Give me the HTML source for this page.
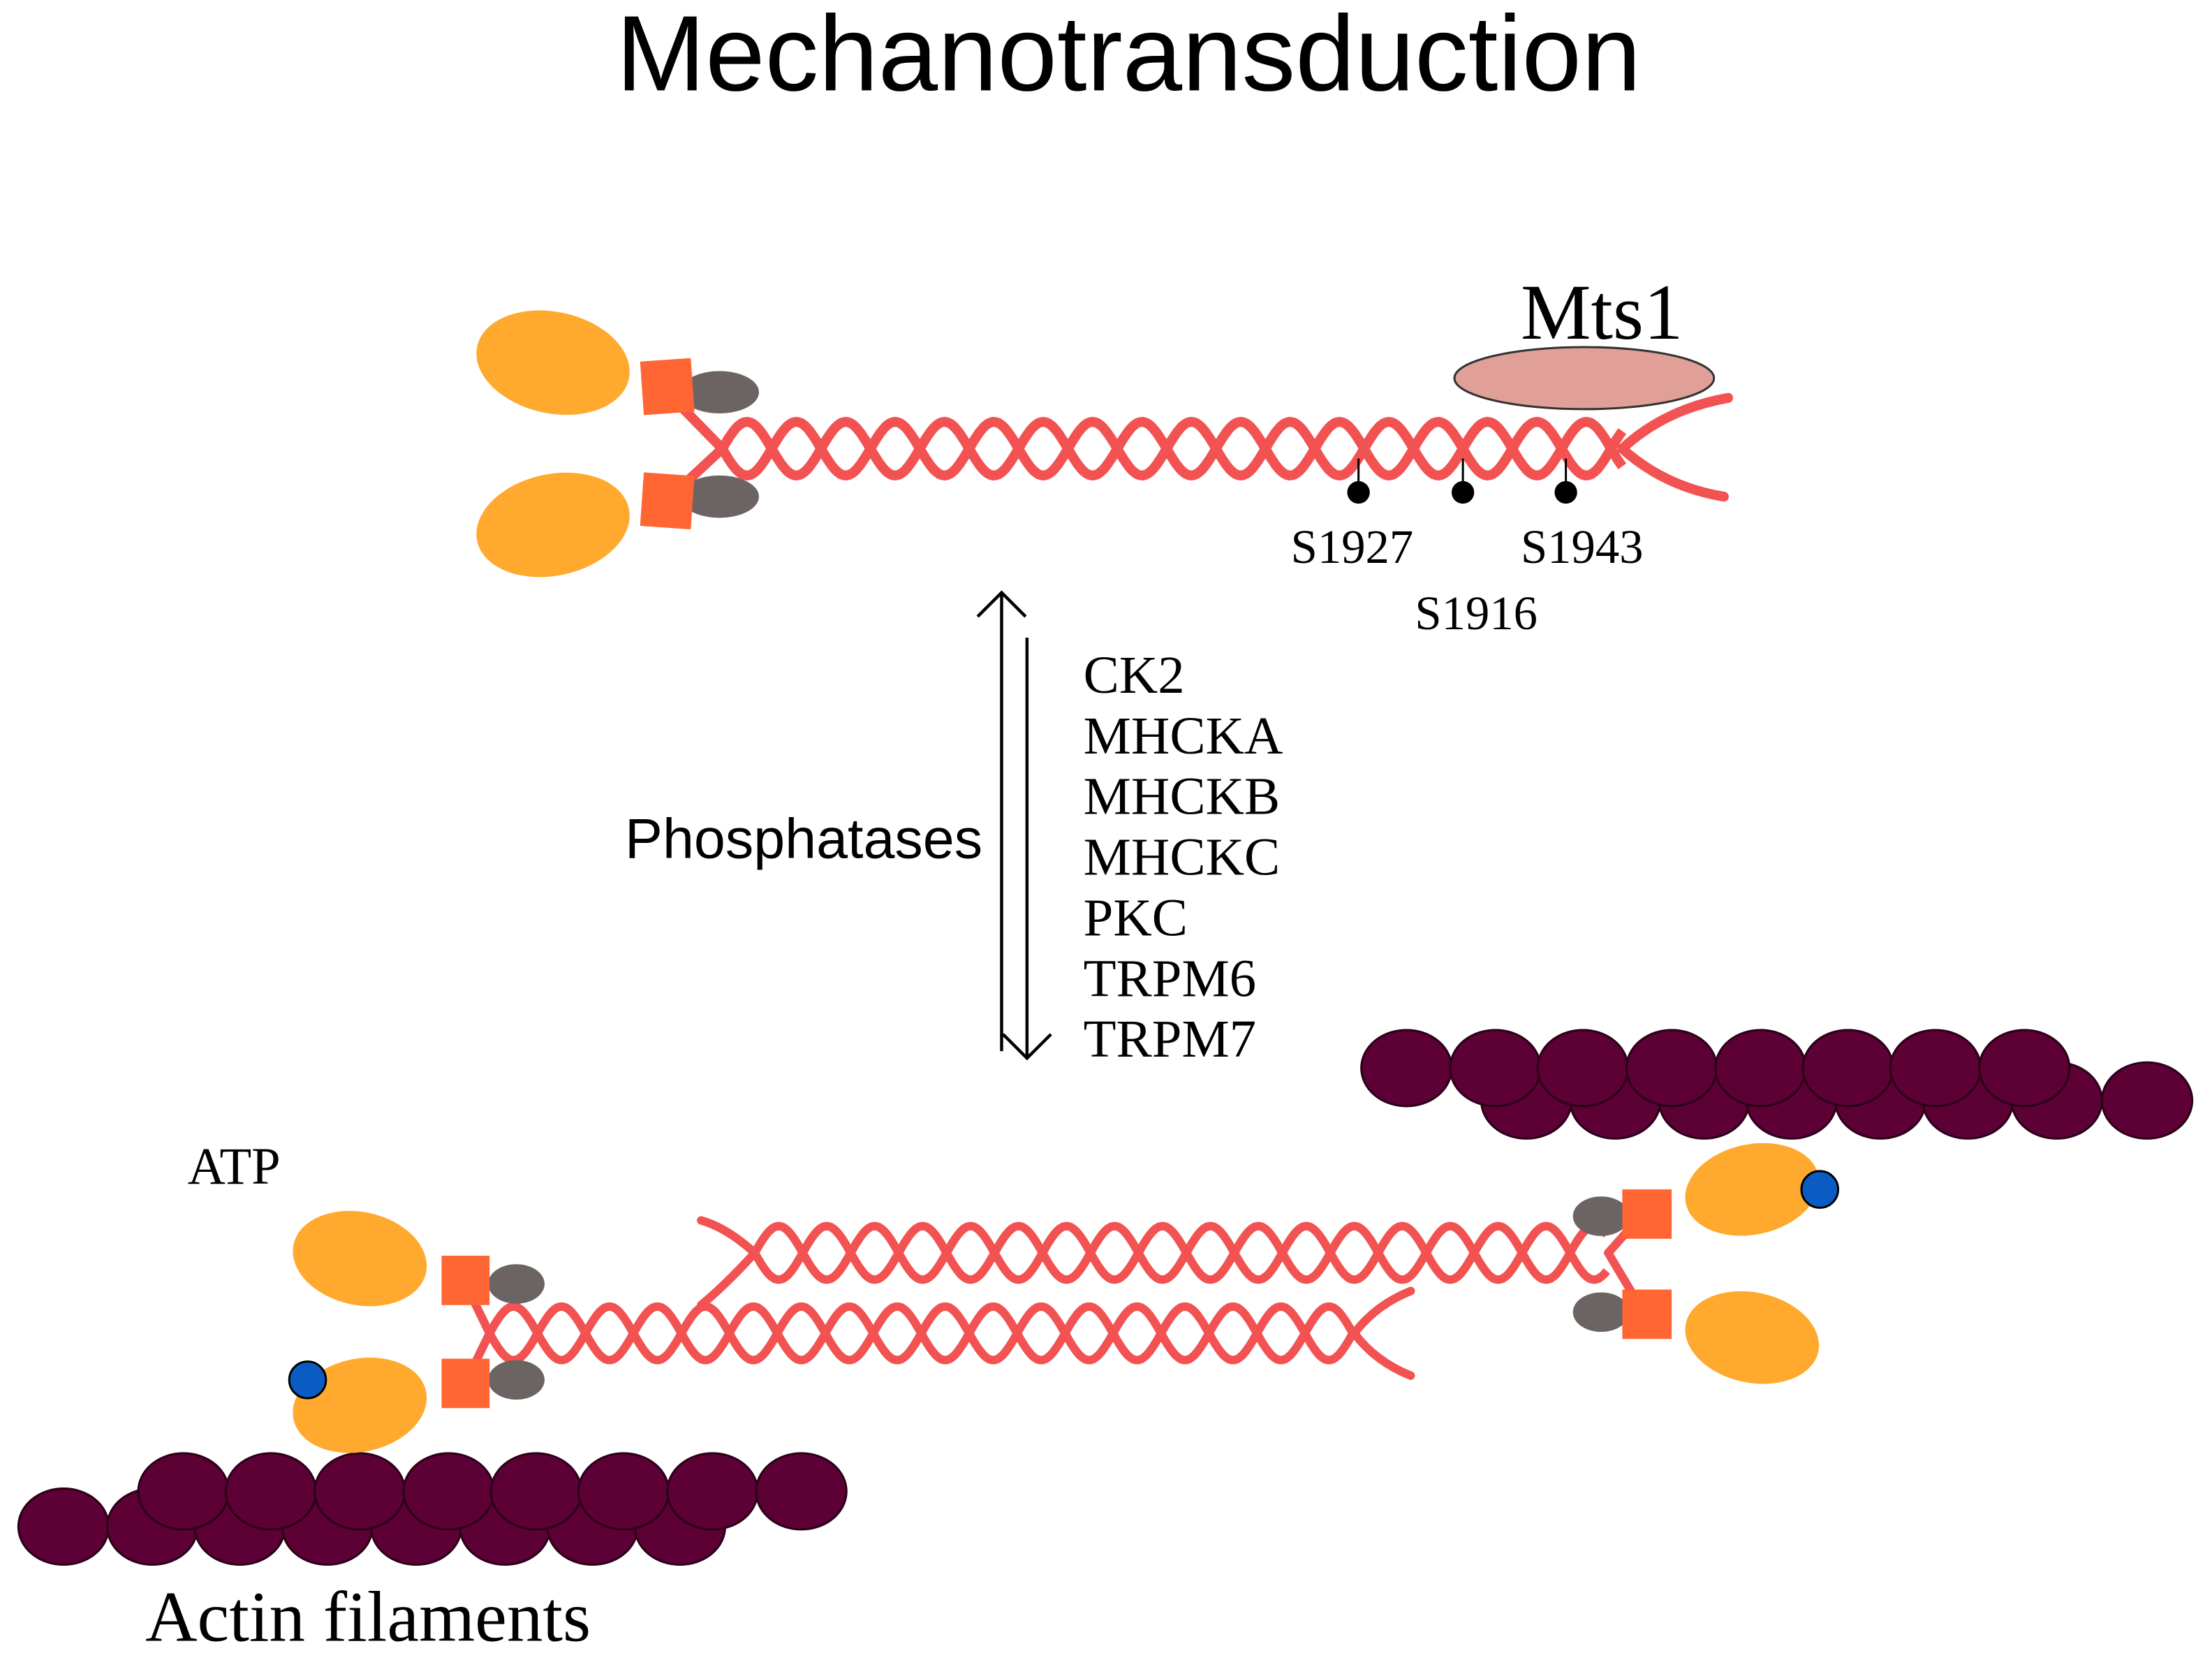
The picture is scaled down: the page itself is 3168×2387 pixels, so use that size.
<!DOCTYPE html>
<html><head><meta charset="utf-8"><style>
html,body{margin:0;padding:0;background:#fff;width:3168px;height:2387px;overflow:hidden}
svg{display:block}
.serif{font-family:"Liberation Serif",serif}
.sans{font-family:"Liberation Sans",sans-serif}
</style></head><body>
<svg id="s" width="3168" height="2387" viewBox="0 0 1568 1181.5" xmlns="http://www.w3.org/2000/svg">
<text x="800" y="64" text-anchor="middle" class="sans" font-size="76">Mechanotransduction</text>
<g id="actinTR"></g>
<g id="actinBL"></g>
<!-- top myosin heads -->
<g stroke="#f25252" stroke-width="7" fill="none" stroke-linecap="round">
<path d="M512 318 L470 275"/><path d="M512 318 L470 357"/>
<path d="M1150 318 Q1180 290 1225 282"/><path d="M1150 318 Q1180 345 1222 352"/>
</g>
<ellipse cx="392" cy="257" rx="55" ry="36" fill="#ffaa2e" transform="rotate(12 392 257)"/>
<ellipse cx="392" cy="372" rx="55" ry="36" fill="#ffaa2e" transform="rotate(-12 392 372)"/>
<ellipse cx="510" cy="278" rx="28" ry="15" fill="#6b6462"/>
<ellipse cx="510" cy="352" rx="28" ry="15" fill="#6b6462"/>
<rect x="455" y="255" width="36" height="38" fill="#ff6633" transform="rotate(-4 473 274)"/>
<rect x="455" y="336" width="36" height="38" fill="#ff6633" transform="rotate(4 473 355)"/>
<path id="h1" fill="none" stroke="#f25252" stroke-width="7"/>
<ellipse cx="1123" cy="268" rx="92" ry="22" fill="#e0a098" stroke="#333" stroke-width="1.5"/>
<text x="1078" y="240" class="serif" font-size="56">Mts1</text>
<g stroke="#000" stroke-width="1.5"><line x1="963" y1="325" x2="963" y2="348"/><line x1="1037" y1="325" x2="1037" y2="348"/><line x1="1110" y1="325" x2="1110" y2="348"/></g>
<circle cx="963" cy="349" r="8"/><circle cx="1037" cy="349" r="8"/><circle cx="1110" cy="349" r="8"/>
<g class="serif" font-size="34"><text x="915" y="399">S1927</text><text x="1078" y="399">S1943</text><text x="1003" y="446">S1916</text></g>
<!-- arrows -->
<g stroke="#000" stroke-width="2.2" fill="none">
<line x1="710" y1="420" x2="710" y2="745"/><path d="M693 437 L710 420 L727 437"/>
<line x1="728" y1="452" x2="728" y2="750"/><path d="M711 733 L728 750 L745 733"/>
</g>
<text x="443" y="608" class="sans" font-size="40">Phosphatases</text>
<g class="serif" font-size="38">
<text x="768" y="491">CK2</text><text x="768" y="534">MHCKA</text><text x="768" y="577">MHCKB</text><text x="768" y="620">MHCKC</text><text x="768" y="663">PKC</text><text x="768" y="706">TRPM6</text><text x="768" y="749">TRPM7</text>
</g>
<!-- bottom myosins -->
<g stroke="#f25252" stroke-width="6" fill="none" stroke-linecap="round">
<path d="M347 945 L330 910"/><path d="M347 945 L330 980"/>
<path d="M960 945 Q975 925 1000 915"/><path d="M960 945 Q975 965 1000 975"/>
<path d="M535 888 Q515 870 497 865"/><path d="M535 888 Q515 910 497 925"/>
<path d="M1140 888 L1165 860"/><path d="M1140 888 L1165 930"/>
</g>
<path id="h2" fill="none" stroke="#f25252" stroke-width="6"/>
<path id="h3" fill="none" stroke="#f25252" stroke-width="6"/>
<ellipse cx="255" cy="892" rx="48" ry="33" fill="#ffaa2e" transform="rotate(12 255 892)"/>
<ellipse cx="255" cy="996" rx="48" ry="33" fill="#ffaa2e" transform="rotate(-12 255 996)"/>
<ellipse cx="366" cy="910" rx="20" ry="14" fill="#6b6462"/>
<ellipse cx="366" cy="978" rx="20" ry="14" fill="#6b6462"/>
<rect x="313" y="890" width="34" height="35" fill="#ff6633"/>
<rect x="313" y="963" width="34" height="35" fill="#ff6633"/>
<circle cx="218" cy="978" r="13" fill="#0a5cc2" stroke="#000" stroke-width="1.5"/>
<ellipse cx="1242" cy="843" rx="48" ry="32" fill="#ffaa2e" transform="rotate(-12 1242 843)"/>
<ellipse cx="1242" cy="948" rx="48" ry="32" fill="#ffaa2e" transform="rotate(12 1242 948)"/>
<ellipse cx="1135" cy="862" rx="20" ry="14" fill="#6b6462"/>
<ellipse cx="1135" cy="930" rx="20" ry="14" fill="#6b6462"/>
<rect x="1150" y="843" width="35" height="35" fill="#ff6633"/>
<rect x="1150" y="914" width="35" height="35" fill="#ff6633"/>
<circle cx="1290" cy="843" r="13" fill="#0a5cc2" stroke="#000" stroke-width="1.5"/>
<text x="133" y="839" class="serif" font-size="37">ATP</text>
<text x="103" y="1163" class="serif" font-size="51">Actin filaments</text>
</svg>
<script>
function helix(x0,x1,yc,a,per){
  var d="";for(var s=0;s<2;s++){var ph=s*Math.PI;d+="M";for(var x=x0;x<=x1;x+=2){var y=yc+a*Math.sin((x-x0)/per*2*Math.PI+ph);d+=x.toFixed(1)+" "+y.toFixed(1)+" ";}}
  return d;}
document.getElementById('h1').setAttribute('d',helix(512,1150,318,19,70));
document.getElementById('h2').setAttribute('d',helix(347,960,945,19,68));
document.getElementById('h3').setAttribute('d',helix(535,1140,888,19,68));
function actin(id,top,yt,bot,yb){
  var g=document.getElementById(id),h="";
  bot.forEach(function(x){h+='<ellipse cx="'+x+'" cy="'+yb+'" rx="32" ry="27" fill="#5c0036" stroke="#2a0018" stroke-width="1.5"/>';});
  top.forEach(function(x){h+='<ellipse cx="'+x+'" cy="'+yt+'" rx="32" ry="27" fill="#5c0036" stroke="#2a0018" stroke-width="1.5"/>';});
  g.innerHTML=h;}
actin('actinTR',[997,1060,1122,1185,1248,1310,1372,1435],757,[1082,1145,1208,1270,1333,1395,1458,1522],780);
actin('actinBL',[130,192,255,318,380,442,505,568],1057,[45,108,170,232,295,358,420,482],1082);
</script>
</body></html>
